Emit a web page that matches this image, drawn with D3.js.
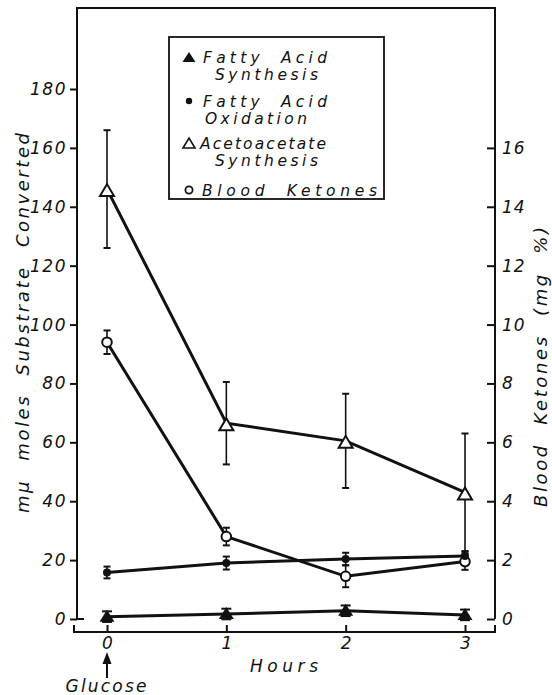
<!DOCTYPE html>
<html><head><meta charset="utf-8">
<script src="https://cdn.jsdelivr.net/npm/d3@7"></script>
<style>
body{margin:0;background:#fff;}
text{font-family:"DejaVu Sans",sans-serif;font-style:italic;fill:#111;}
</style></head>
<body><svg id="c" width="552" height="695"></svg>
<script>
const hours = [0, 1, 2, 3];
const leftTicks = [0, 20, 40, 60, 80, 100, 120, 140, 160, 180];
const rightTicks = [0, 2, 4, 6, 8, 10, 12, 14, 16];
const fattySynth = [0.8, 1.7, 2.8, 1.4];
const fattySynthErr = [1.8, 1.8, 1.8, 1.8];
const fattyOx = [15.8, 19.0, 20.4, 21.4];
const fattyOxErr = [2.0, 2.2, 2.1, 1.6];
const aceto = [146, 66.5, 60.5, 43];
const acetoErr = [20, 14, 16, 20];
const ketones = [9.4, 2.8, 1.45, 1.95];
const ketonesErr = [0.4, 0.3, 0.37, 0.28];
const legendLines = [["Fatty Acid", "Synthesis"], ["Fatty Acid", "Oxidation"], ["Acetoacetate", "Synthesis"], ["Blood Ketones"]];

const svg = d3.select("#c");
const x = d3.scaleLinear().domain([0, 3]).range([107, 465]);
const yL = d3.scaleLinear().domain([0, 180]).range([619, 89]);
const yR = d3.scaleLinear().domain([0, 18]).range([619, 89]);
const frameL = 77, frameR = 495, frameT = 8, bottomAxisY = 632;

const ink = "#111";
// frame
svg.append("path").attr("d", `M${frameL},${yL(0)}L${frameL},${frameT}L${frameR},${frameT}L${frameR},${yL(0)}`)
  .attr("fill", "none").attr("stroke", ink).attr("stroke-width", 2);
// left axis ticks
const gl = svg.append("g").attr("transform", `translate(${frameL},0)`)
  .call(d3.axisLeft(yL).tickValues(leftTicks).tickSize(7).tickPadding(3).tickFormat(d3.format("d")));
gl.select(".domain").remove();
gl.selectAll("line").attr("stroke", ink).attr("stroke-width", 2);
gl.selectAll("text").style("font-size", "17px").attr("letter-spacing", 1.5);
// zero foot on left
svg.append("line").attr("x1", frameL).attr("x2", frameL + 7).attr("y1", yL(0)).attr("y2", yL(0)).attr("stroke", ink).attr("stroke-width", 2);
// right axis (ticks inward)
const gr = svg.append("g").attr("transform", `translate(${frameR},0)`)
  .call(d3.axisRight(yR).tickValues(rightTicks).tickSize(-8).tickPadding(8).tickFormat(d3.format("d")));
gr.select(".domain").remove();
gr.selectAll("line").attr("stroke", ink).attr("stroke-width", 2);
gr.selectAll("text").style("font-size", "17px").attr("letter-spacing", 1).attr("text-anchor", "start").attr("x", 7);
// bottom axis bracket
svg.append("path").attr("d", `M${frameL - 3},${bottomAxisY - 7}L${frameL - 3},${bottomAxisY}L${frameR},${bottomAxisY}L${frameR},${bottomAxisY - 7}`)
  .attr("fill", "none").attr("stroke", ink).attr("stroke-width", 2);
const gb = svg.append("g").attr("transform", `translate(0,${bottomAxisY})`)
  .call(d3.axisBottom(x).tickValues(hours).tickSize(-7).tickPadding(5).tickFormat(d3.format("d")));
gb.select(".domain").remove();
gb.selectAll("line").attr("stroke", ink).attr("stroke-width", 2);
gb.selectAll("text").style("font-size", "17px");

// axis titles
svg.append("text").attr("transform", `translate(29,323) rotate(-90)`).attr("text-anchor", "middle")
  .style("font-size", "18px").attr("word-spacing", 10).attr("textLength", 380).attr("lengthAdjust", "spacing")
  .text("mμ moles Substrate Converted");
svg.append("text").attr("transform", `translate(547,367) rotate(-90)`).attr("text-anchor", "middle")
  .style("font-size", "18px").attr("word-spacing", 10).attr("textLength", 280).attr("lengthAdjust", "spacing")
  .text("Blood Ketones (mg %)");
svg.append("text").attr("x", 284).attr("y", 672).attr("text-anchor", "middle")
  .style("font-size", "17px").attr("textLength", 68).attr("lengthAdjust", "spacing").text("Hours");
svg.append("text").attr("x", 106).attr("y", 692).attr("text-anchor", "middle")
  .style("font-size", "17px").attr("textLength", 81).attr("lengthAdjust", "spacing").text("Glucose");
// arrow
svg.append("line").attr("x1", x(0)).attr("x2", x(0)).attr("y1", 658).attr("y2", 678).attr("stroke", ink).attr("stroke-width", 2);
svg.append("path").attr("d", `M${x(0) - 4.5},${664}L${x(0)},${652}L${x(0) + 4.5},${664}Z`).attr("fill", ink);

// series
function errbars(vals, errs, y, cap) {
  const g = svg.append("g").attr("stroke", ink).attr("stroke-width", 1.6);
  vals.forEach((v, i) => {
    const cx = x(hours[i]);
    g.append("line").attr("x1", cx).attr("x2", cx).attr("y1", y(v - errs[i])).attr("y2", y(v + errs[i]));
    [v - errs[i], v + errs[i]].forEach(e => g.append("line").attr("x1", cx - cap).attr("x2", cx + cap).attr("y1", y(e)).attr("y2", y(e)).attr("stroke-width", 2));
  });
}
function line(vals, y) {
  svg.append("path").datum(vals).attr("fill", "none").attr("stroke", ink).attr("stroke-width", 3)
    .attr("d", d3.line().x((d, i) => x(hours[i])).y(d => y(d)));
}
const triPath = (cx, cy, w, h) => `M${cx - w / 2},${cy + h / 2}L${cx},${cy - h / 2}L${cx + w / 2},${cy + h / 2}Z`;

errbars(aceto, acetoErr, yL, 3.5);
errbars(ketones, ketonesErr, yR, 3.5);
errbars(fattyOx, fattyOxErr, yL, 3.5);
errbars(fattySynth, fattySynthErr, yL, 5);
line(aceto, yL); line(ketones, yR); line(fattyOx, yL); line(fattySynth, yL);

aceto.forEach((v, i) => svg.append("path").attr("d", triPath(x(hours[i]), yL(v) + 1, 14, 12)).attr("fill", "#fff").attr("stroke", ink).attr("stroke-width", 2));
ketones.forEach((v, i) => svg.append("circle").attr("cx", x(hours[i])).attr("cy", yR(v)).attr("r", 4.8).attr("fill", "#fff").attr("stroke", ink).attr("stroke-width", 2));
fattyOx.forEach((v, i) => svg.append("circle").attr("cx", x(hours[i])).attr("cy", yL(v)).attr("r", 4).attr("fill", ink));
fattySynth.forEach((v, i) => svg.append("path").attr("d", triPath(x(hours[i]), yL(v) - 1, 15, 12)).attr("fill", ink));

// legend
const lg = svg.append("g");
lg.append("rect").attr("x", 169).attr("y", 37).attr("width", 215).attr("height", 162).attr("fill", "#fff").attr("stroke", ink).attr("stroke-width", 1.8);
const entryY = [57, 101, 143, 190];
const textX = [[203, 215], [203, 205], [200, 215], [202]];
const textW = [[124, 103], [124, 102], [126, 103], [175]];
legendLines.forEach((ls, k) => {
  ls.forEach((t, j) => lg.append("text").attr("x", textX[k][j]).attr("y", entryY[k] + 6 + j * 17)
    .style("font-size", "15.5px").attr("word-spacing", 8).attr("textLength", textW[k][j]).attr("lengthAdjust", "spacing").text(t));
});
lg.append("path").attr("d", triPath(189, entryY[0], 13, 10)).attr("fill", ink);
lg.append("circle").attr("cx", 189).attr("cy", entryY[1]).attr("r", 3.2).attr("fill", ink);
lg.append("path").attr("d", triPath(189, entryY[2], 12, 10)).attr("fill", "none").attr("stroke", ink).attr("stroke-width", 1.6);
lg.append("circle").attr("cx", 189).attr("cy", entryY[3]).attr("r", 3.6).attr("fill", "none").attr("stroke", ink).attr("stroke-width", 1.8);
</script></body></html>
